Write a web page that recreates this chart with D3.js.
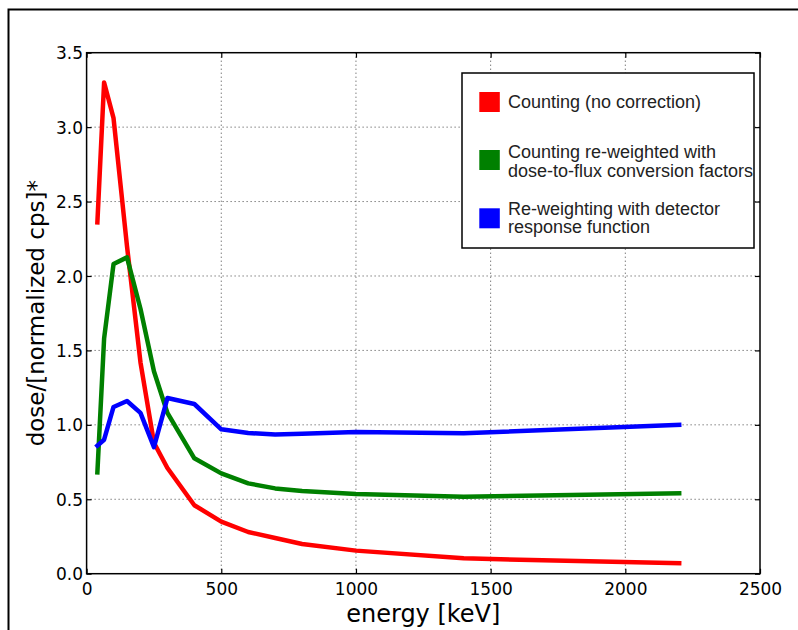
<!DOCTYPE html>
<html>
<head>
<meta charset="utf-8">
<script src="https://cdn.jsdelivr.net/npm/d3@7/dist/d3.min.js"></script>
<style>
  html, body { margin: 0; padding: 0; background: #fff; }
  svg { display: block; }
</style>
</head>
<body>
<svg id="chart" width="798" height="630"></svg>
<script>
// ---- data ----
const energies = [40, 65, 100, 150, 200, 250, 300, 400, 500, 600, 700, 800, 1000, 1400, 2200];
const counting = [2.36, 3.30, 3.06, 2.20, 1.42, 0.88, 0.71, 0.46, 0.35, 0.28, 0.24, 0.20, 0.155, 0.103, 0.07];
const reweightedDtf = [0.68, 1.58, 2.08, 2.125, 1.78, 1.36, 1.08, 0.775, 0.674, 0.607, 0.573, 0.555, 0.535, 0.517, 0.54];
const reweightedDrf = [0.86, 0.90, 1.12, 1.16, 1.08, 0.85, 1.18, 1.14, 0.97, 0.945, 0.935, 0.94, 0.952, 0.943, 1.0];
const seriesNames = ["Counting (no correction)", "Counting re-weighted with\ndose-to-flux conversion factors", "Re-weighting with detector\nresponse function"];
const seriesColors = ["#ff0000", "#008000", "#0000ff"];
const xTicks = [0, 500, 1000, 1500, 2000, 2500];
const yTicks = [0.0, 0.5, 1.0, 1.5, 2.0, 2.5, 3.0, 3.5];
const xLabel = "energy [keV]";
const yLabel = "dose/[normalized cps]*";

// ---- layout ----
const L = 86.6, R = 760, T = 52.7, B = 573.7;
const svg = d3.select("#chart");

// outer frame
svg.append("path")
  .attr("d", "M8.5,640 L8.5,9.5 L810,9.5")
  .attr("fill", "none").attr("stroke", "#000").attr("stroke-width", 2);

const x = d3.scaleLinear().domain([0, 2500]).range([L, R]);
const y = d3.scaleLinear().domain([0, 3.5]).range([B, T]);

// grid
const grid = svg.append("g");
grid.selectAll("line.vx").data(xTicks.slice(1, -1)).join("line")
  .attr("x1", d => x(d)).attr("x2", d => x(d)).attr("y1", T).attr("y2", B)
  .attr("stroke", "#444").attr("stroke-width", 1).attr("stroke-dasharray", "1,3");
grid.selectAll("line.hy").data(yTicks.slice(1, -1)).join("line")
  .attr("x1", L).attr("x2", R).attr("y1", d => y(d)).attr("y2", d => y(d))
  .attr("stroke", "#444").attr("stroke-width", 1).attr("stroke-dasharray", "1,3");

// axes with inward ticks
const tickLen = 5;
const axB = svg.append("g").attr("transform", `translate(0,${B})`)
  .call(d3.axisBottom(x).tickValues(xTicks).tickSizeInner(-tickLen).tickSizeOuter(0).tickFormat(d3.format("d")));
const axT = svg.append("g").attr("transform", `translate(0,${T})`)
  .call(d3.axisTop(x).tickValues(xTicks).tickSizeInner(-tickLen).tickSizeOuter(0).tickFormat(""));
const axL = svg.append("g").attr("transform", `translate(${L},0)`)
  .call(d3.axisLeft(y).tickValues(yTicks).tickSizeInner(-tickLen).tickSizeOuter(0).tickFormat(d3.format(".1f")));
const axR = svg.append("g").attr("transform", `translate(${R},0)`)
  .call(d3.axisRight(y).tickValues(yTicks).tickSizeInner(-tickLen).tickSizeOuter(0).tickFormat(""));
[axB, axT, axL, axR].forEach(a => {
  a.select(".domain").remove();
  a.selectAll(".tick line").attr("stroke", "#000").attr("stroke-width", 1.2);
});
axB.selectAll(".tick text").attr("y", 21).attr("dy", 0)
  .attr("font-family", "DejaVu Sans").attr("font-size", 17).attr("fill", "#000");
axL.selectAll(".tick text").attr("x", -3.5).attr("dy", "0.36em")
  .attr("font-family", "DejaVu Sans").attr("font-size", 17).attr("fill", "#000");

// series
const allSeries = [counting, reweightedDtf, reweightedDrf];
const line = d3.line().x((d, i) => x(energies[i])).y(d => y(d));
svg.append("g").selectAll("path").data(allSeries).join("path")
  .attr("d", d => line(d))
  .attr("fill", "none")
  .attr("stroke", (d, i) => seriesColors[i])
  .attr("stroke-width", 4.5)
  .attr("stroke-linejoin", "round")
  .attr("stroke-linecap", "square");

// plot frame
svg.append("rect").attr("x", L).attr("y", T).attr("width", R - L).attr("height", B - T)
  .attr("fill", "none").attr("stroke", "#000").attr("stroke-width", 1.5);

// axis labels
svg.append("text").attr("x", (L + R) / 2).attr("y", 622).attr("text-anchor", "middle")
  .attr("font-family", "DejaVu Sans").attr("font-size", 24).attr("fill", "#000").text(xLabel);
svg.append("text").attr("transform", `translate(44,${(T + B) / 2}) rotate(-90)`).attr("text-anchor", "middle")
  .attr("font-family", "DejaVu Sans").attr("font-size", 23).attr("fill", "#000").text(yLabel);

// legend
const lg = svg.append("g");
lg.append("rect").attr("x", 462).attr("y", 73).attr("width", 292).attr("height", 175)
  .attr("fill", "#fff").attr("stroke", "#000").attr("stroke-width", 1.5);
const swatchY = [92, 150, 208.3];
const textBase = [[108.3], [157.7, 176.7], [215, 233.3]];
seriesNames.forEach((name, i) => {
  lg.append("rect").attr("x", 479.3).attr("y", swatchY[i]).attr("width", 20.5).attr("height", 20)
    .attr("fill", seriesColors[i]);
  const parts = name.split("\n");
  parts.forEach((p, j) => {
    lg.append("text").attr("x", 508).attr("y", textBase[i][j])
      .attr("font-family", "Liberation Sans, Arial, sans-serif").attr("font-size", 18).attr("fill", "#222").text(p);
  });
});
</script>
</body>
</html>
